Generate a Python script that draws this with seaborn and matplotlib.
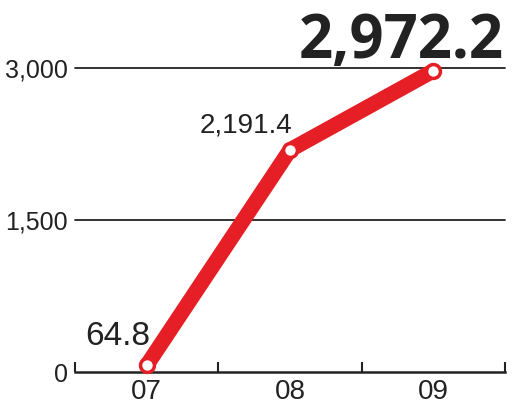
import matplotlib
matplotlib.use("Agg")
import matplotlib.pyplot as plt
import seaborn as sns
import pandas as pd

years = ["07", "08", "09"]
values = [64.8, 2191.4, 2972.2]
value_labels = ["64.8", "2,191.4", "2,972.2"]
ytick_vals = [0, 1500, 3000]
ytick_labels = ["0", "1,500", "3,000"]

sns.set_style("white")
narrow = ["Liberation Sans Narrow", "Liberation Sans", "DejaVu Sans"]
plt.rcParams["font.family"] = narrow

RED = "#e61e25"
df = pd.DataFrame({"year": years, "value": values})

fig = plt.figure(figsize=(5.12, 4.09), dpi=100)
ax = fig.add_axes([75 / 512, 37 / 409, 430 / 512, 304 / 409])

for y in ytick_vals[1:]:
    ax.axhline(y, color="#222222", lw=1.3, zorder=1, clip_on=False)

sns.lineplot(data=df, x="year", y="value", ax=ax, color=RED, lw=11,
             marker="o", markersize=10, markerfacecolor="white",
             markeredgecolor=RED, markeredgewidth=2.5, clip_on=False,
             solid_capstyle="round", zorder=3)

ax.set_xlim(-0.5, 2.5)
ax.set_ylim(0, 3000)
ax.set_xlabel("")
ax.set_ylabel("")

ax.set_yticks(ytick_vals)
ax.set_yticklabels(ytick_labels, fontsize=18, color="#222222")
ax.tick_params(axis="y", length=0, pad=5)

ax.set_xticks(range(len(years)))
ax.set_xticklabels(years, fontsize=20, color="#222222")
ax.tick_params(axis="x", which="major", length=0, pad=5)
ax.set_xticks([-0.5, 0.5, 1.5, 2.5], minor=True)
ax.tick_params(axis="x", which="minor", bottom=True, direction="in",
               length=7, width=1.5, color="#222222")

for s in ["left", "right", "top"]:
    ax.spines[s].set_visible(False)
ax.spines["bottom"].set_color("#222222")
ax.spines["bottom"].set_linewidth(1.8)

offsets = [(-29, 20), (-44, 17), (-32, 13)]
sizes = [24, 20, 43]
for i, (lab, off, fs) in enumerate(zip(value_labels, offsets, sizes)):
    if i == 2:
        ax.annotate(lab, (i, values[i]), xytext=off, textcoords="offset pixels",
                    ha="center", va="baseline", fontsize=fs, fontweight="bold",
                    color="#222222", family=["Open Sans", "DejaVu Sans"],
                    annotation_clip=False)
    else:
        ax.annotate(lab, (i, values[i]), xytext=off, textcoords="offset pixels",
                    ha="center", va="baseline", fontsize=fs, color="#222222",
                    annotation_clip=False)

fig.savefig("out.png", dpi=100)
